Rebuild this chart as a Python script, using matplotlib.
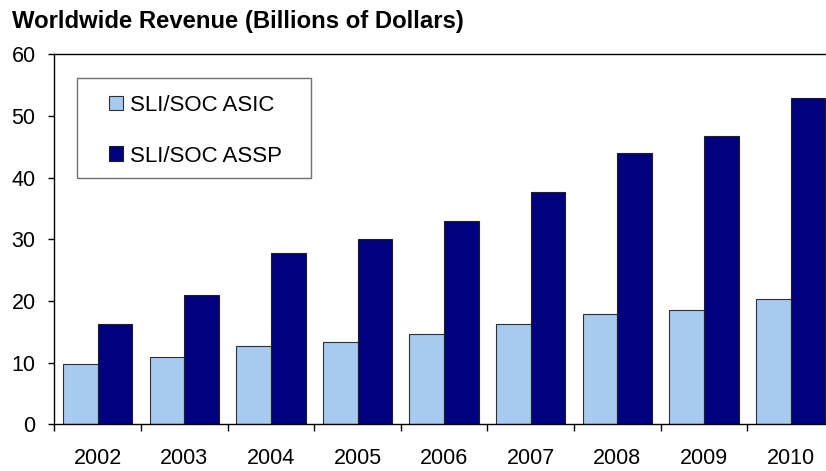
import matplotlib
matplotlib.use('Agg')
import matplotlib.pyplot as plt
from matplotlib.patches import Rectangle
import numpy as np

# Worldwide revenue, billions of dollars
years = ['2002', '2003', '2004', '2005', '2006', '2007', '2008', '2009', '2010']
asic = [9.7, 10.9, 12.65, 13.3, 14.65, 16.3, 17.85, 18.5, 20.3]
assp = [16.2, 21.0, 27.75, 30.0, 33.0, 37.65, 44.05, 46.75, 52.95]

plt.rcParams['font.family'] = ['Liberation Sans', 'DejaVu Sans']

W, H = 826, 471
fig = plt.figure(figsize=(W / 100, H / 100), dpi=100)
ax = fig.add_axes([54.3 / W, 1 - 424.3 / H, (834 - 54.3) / W, (424.3 - 54.3) / H])

x = np.arange(len(years))
width = 0.4
b1 = ax.bar(x - width / 2, asic, width, color='#A6CAF0', edgecolor='#303030',
            linewidth=0.8, label='SLI/SOC ASIC', zorder=2)
b2 = ax.bar(x + width / 2, assp, width, color='#000080', edgecolor='#202020',
            linewidth=0.8, label='SLI/SOC ASSP', zorder=2)

ax.set_xlim(-0.5, len(years) - 0.5)
ax.set_ylim(0, 60)
ax.set_yticks(np.arange(0, 61, 10))
ax.tick_params(axis='y', direction='out', length=4.5, width=1, pad=9, labelsize=15.5)

# tick marks at category boundaries, labels at category centres
ax.set_xticks(np.arange(len(years) + 1) - 0.5)
ax.set_xticklabels([])
ax.set_xticks(x, minor=True)
ax.set_xticklabels(years, minor=True)
ax.tick_params(axis='x', which='major', direction='out', length=4.8, width=1)
ax.tick_params(axis='x', which='minor', length=0, pad=17, labelsize=15.5)

for side in ['left', 'bottom', 'top']:
    ax.spines[side].set_linewidth(1)
    ax.spines[side].set_color('black')
ax.spines['right'].set_visible(False)

# legend box drawn separately so its padding can match the original
fig.patches.append(Rectangle((76.7 / W, 1 - 178 / H), (311 - 76.7) / W, (178 - 77.7) / H,
                             transform=fig.transFigure, facecolor='white',
                             edgecolor='#707070', linewidth=1.0, zorder=3))
fig.legend([b1, b2], ['SLI/SOC ASIC', 'SLI/SOC ASSP'],
           loc='upper left', bbox_to_anchor=(108.5 / W, 1 - 95 / H),
           fontsize=16, frameon=False, borderpad=0, labelspacing=1.33,
           handlelength=0.66, handleheight=0.63, handletextpad=0.3,
           borderaxespad=0)

fig.text(12 / W, 1 - 10 / H, 'Worldwide Revenue (Billions of Dollars)',
         fontsize=17.2, fontweight='bold', va='top', ha='left')

fig.savefig('out.png', dpi=100)
